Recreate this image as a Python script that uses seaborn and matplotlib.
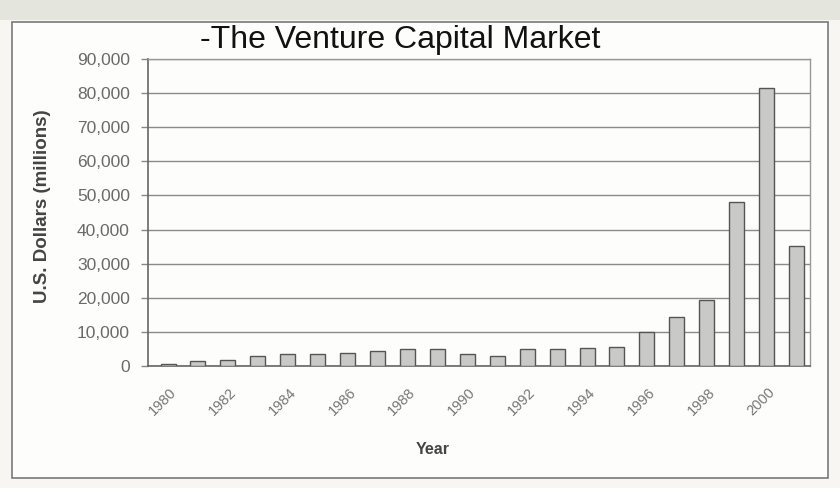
import matplotlib
matplotlib.use("Agg")
import matplotlib.pyplot as plt
import matplotlib.patches as mpatches
import matplotlib.transforms as mtransforms
import seaborn as sns
import pandas as pd

years = list(range(1980, 2002))
values = [600, 1500, 1800, 3000, 3500, 3500, 3900, 4400, 5000, 5100,
          3500, 2800, 5100, 5100, 5300, 5700, 10100, 14300, 19300, 48000,
          81500, 35200]
yticks = [0, 10000, 20000, 30000, 40000, 50000, 60000, 70000, 80000, 90000]
title = "-The Venture Capital Market"
xlabel = "Year"
ylabel = "U.S. Dollars (millions)"

sns.set_theme(style="white")
plt.rcParams['font.family'] = ['Liberation Sans', 'DejaVu Sans']

df = pd.DataFrame({"year": [str(y) for y in years], "value": values})

fig = plt.figure(figsize=(8.4, 4.88), dpi=100)
fig.patch.set_facecolor("#f7f6f2")

# top gray strip and outer frame
fig.add_artist(mpatches.Rectangle((0, 1 - 20/488), 1, 20/488, transform=fig.transFigure,
                                  facecolor="#e4e6de", edgecolor="none", zorder=0))
fig.add_artist(mpatches.Rectangle((12/840, 1 - 478/488), 816/840, 456/488,
                                  transform=fig.transFigure, facecolor="#fdfdfc",
                                  edgecolor="#7a7a7a", linewidth=1.2, zorder=0))

ax = fig.add_axes([148/840, 1 - 366/488, 662/840, 307/488])
ax.set_facecolor("#fdfdfc")
sns.barplot(data=df, x="year", y="value", ax=ax, color="#c9c9c7",
            edgecolor="#555555", linewidth=1.0, width=0.5, saturation=1, zorder=3)

ax.set_ylim(0, 90000)
ax.set_xlim(-0.67, 21.45)
ax.set_yticks(yticks)
ax.set_yticklabels([f"{v:,}" for v in yticks], color="#6a6a6a", fontsize=12.5)
ax.yaxis.grid(True, color="#8a8a8a", linewidth=1.0, zorder=0)
ax.set_axisbelow(True)
ax.tick_params(axis="y", which="major", length=5, width=1, color="#888888",
               left=True, pad=8)
ax.tick_params(axis="x", length=0, pad=14)

ax.set_xticks(range(len(years)))
ax.set_xticklabels([str(y) if (y % 2 == 0) else "" for y in years],
                   rotation=45, ha="right", rotation_mode="anchor",
                   color="#777777", fontsize=10.5)
offset = mtransforms.ScaledTranslation(1/100, 0, fig.dpi_scale_trans)
for lbl in ax.get_xticklabels():
    lbl.set_transform(lbl.get_transform() + offset)

for s in ["left", "bottom"]:
    ax.spines[s].set_color("#666666")
    ax.spines[s].set_linewidth(1.2)
for s in ["top", "right"]:
    ax.spines[s].set_color("#999999")
    ax.spines[s].set_linewidth(1.0)

ax.set_xlabel(xlabel, fontsize=11.5, fontweight="bold", color="#444444")
ax.xaxis.set_label_coords((433 - 148) / 662, (366 - 450) / 307)
ax.xaxis.label.set_va("center")
ax.set_ylabel(ylabel, fontsize=13.5, fontweight="bold", color="#444444")
ax.yaxis.set_label_coords((43 - 148) / 662, (366 - 206) / 307)
ax.yaxis.label.set_va("center")

fig.text(400/840, 1 - 48/488, title, fontsize=23, color="#111111",
         ha="center", va="baseline")

fig.savefig("out.png", dpi=100)
